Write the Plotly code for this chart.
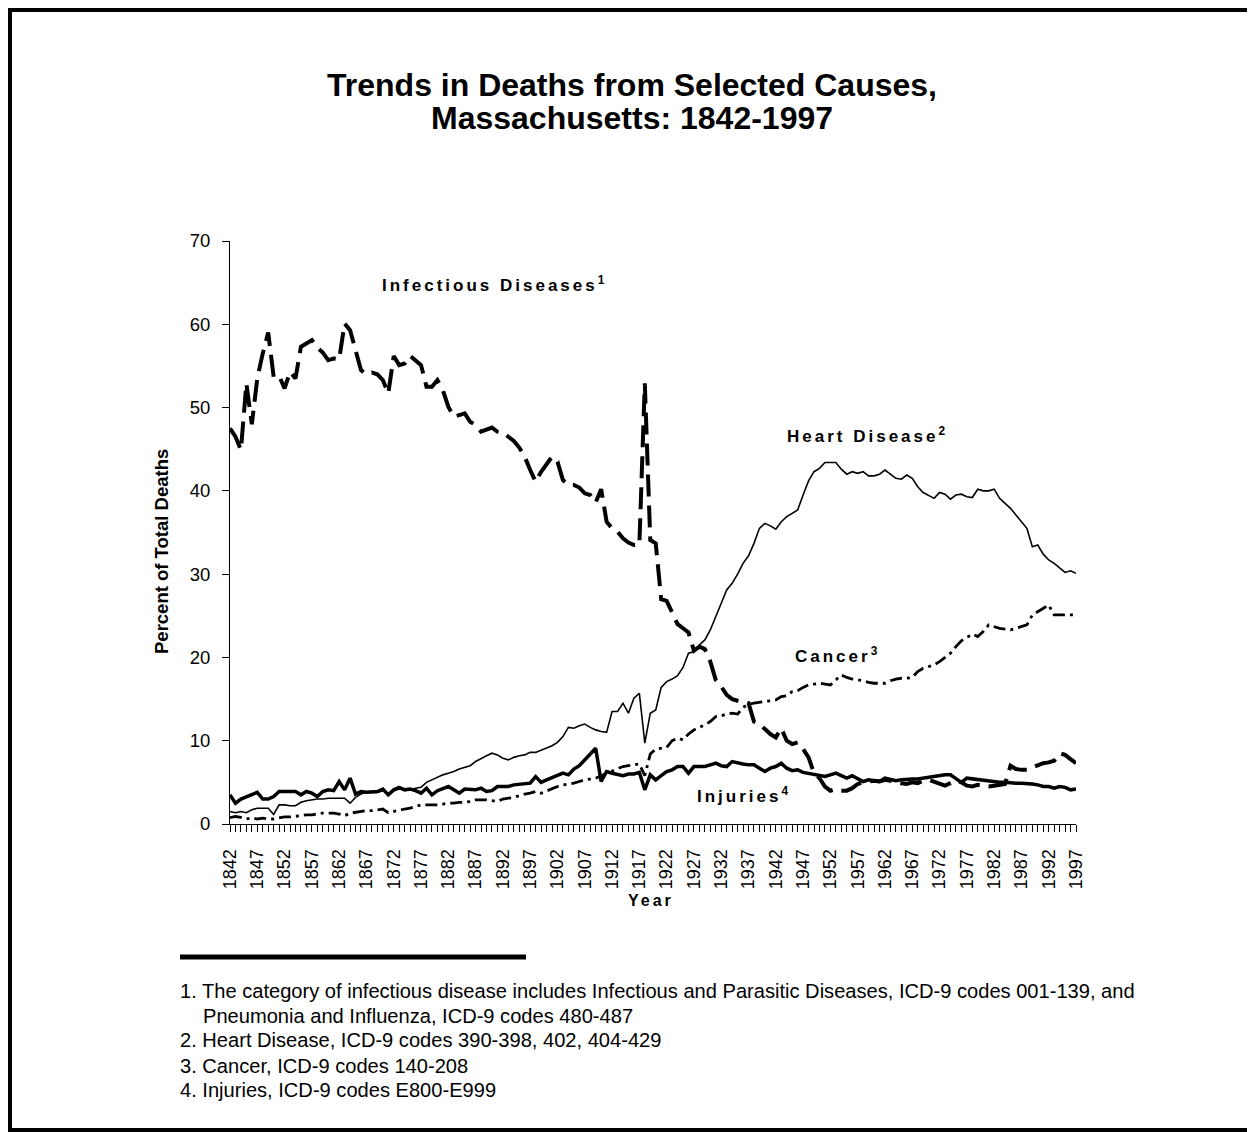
import plotly.graph_objects as go

# Percent of total deaths by cause, Massachusetts 1842-1997
years = list(range(1842, 1998))

infectious = [
    47.5, 46.5, 44.9, 52.9, 48.0, 53.5, 56.5, 59.0, 53.7, 53.8,
    52.3, 54.3, 53.5, 57.3, 57.7, 58.1, 57.2, 56.6, 55.7, 55.9,
    55.8, 60.1, 59.3, 57.0, 54.5, 54.0, 54.2, 54.0, 53.3, 51.7,
    56.2, 55.1, 55.3, 56.2, 55.7, 55.1, 52.5, 52.5, 53.3, 52.1,
    50.1, 48.9, 49.1, 49.3, 48.3, 47.9, 47.1, 47.3, 47.6, 47.1,
    47.0, 46.5, 46.0, 45.2, 44.1, 42.5, 41.1, 42.3, 43.3, 44.1,
    43.5, 41.3, 40.7, 40.7, 40.4, 39.7, 39.5, 38.6, 40.2, 36.3,
    35.5, 35.1, 34.3, 33.8, 33.5, 33.5, 52.9, 34.1, 33.7, 27.0,
    26.8, 25.5, 24.0, 23.5, 23.0, 20.8, 21.3, 21.0, 19.5, 17.3,
    16.5, 15.5, 15.0, 14.8, 14.7, 14.5, 12.3, 12.0, 11.4, 10.8,
    10.4, 11.5, 10.0, 9.6, 9.8, 9.0, 8.0, 6.1, 5.5, 4.5,
    4.0, 4.2, 4.0, 4.0, 4.3, 4.8, 5.0, 5.1, 5.2, 5.1,
    5.3, 5.2, 5.0, 4.9, 4.8, 5.0, 4.9, 5.2, 5.3, 5.1,
    4.8, 4.6, 4.9, 5.2, 5.0, 4.6, 4.5, 4.7, 4.6, 4.5,
    4.6, 4.7, 4.8, 7.0, 6.6, 6.5, 6.5, 6.8, 7.1, 7.3,
    7.4, 7.6, 8.5, 8.3, 7.8, 7.3,
]

heart = [
    1.5, 1.35, 1.5, 1.35, 1.7, 1.9, 1.9, 1.9, 1.15, 2.3,
    2.3, 2.2, 2.2, 2.6, 2.8, 2.9, 3.0, 3.0, 3.1, 3.1,
    3.1, 3.1, 2.5, 3.2, 3.6, 3.8, 3.8, 3.8, 4.0, 3.7,
    4.0, 4.2, 4.1, 4.1, 4.3, 4.4, 5.0, 5.3, 5.6, 5.9,
    6.1, 6.3, 6.6, 6.8, 7.0, 7.5, 7.9, 8.2, 8.5, 8.3,
    7.9, 7.7, 8.0, 8.2, 8.3, 8.6, 8.6, 8.9, 9.1, 9.4,
    9.8, 10.5, 11.6, 11.5, 11.8, 12.0, 11.6, 11.3, 11.1, 11.0,
    13.5, 13.5, 14.5, 13.3, 15.1, 15.7, 9.7, 13.3, 13.7, 16.4,
    17.1, 17.4, 17.8, 18.8, 20.5, 20.7, 21.5, 22.1, 23.3, 25.0,
    26.5, 28.1, 28.9, 30.0, 31.3, 32.2, 33.7, 35.5, 36.1, 35.8,
    35.4, 36.3, 36.9, 37.3, 37.7, 39.5, 41.2, 42.3, 42.7, 43.4,
    43.4, 43.4, 42.6, 42.0, 42.3, 42.1, 42.3, 41.8, 41.8, 42.0,
    42.5, 42.0, 41.5, 41.4, 41.9, 41.5, 40.5, 39.8, 39.4, 39.1,
    39.8, 39.6, 39.0, 39.5, 39.6, 39.3, 39.2, 40.2, 40.0, 40.0,
    40.2, 39.1, 38.5, 37.9, 37.1, 36.3, 35.5, 33.3, 33.5, 32.4,
    31.7, 31.3, 30.8, 30.2, 30.4, 30.1,
]

cancer = [
    0.75, 0.9, 0.8, 0.6, 0.75, 0.6, 0.7, 0.6, 0.6, 0.75,
    0.85, 0.85, 0.9, 1.0, 1.1, 1.1, 1.2, 1.3, 1.3, 1.3,
    1.2, 1.0, 1.3, 1.4, 1.5, 1.6, 1.6, 1.7, 1.8, 1.35,
    1.5, 1.7, 1.8, 1.9, 2.1, 2.3, 2.3, 2.3, 2.3, 2.4,
    2.5, 2.5, 2.6, 2.6, 2.7, 2.9, 2.9, 2.9, 2.8, 2.7,
    3.0, 3.1, 3.2, 3.4, 3.6, 3.7, 3.9, 3.7, 4.0, 4.2,
    4.5, 4.7, 4.8, 4.9, 5.1, 5.3, 5.4, 5.5, 5.8, 6.1,
    6.4, 6.7, 6.9, 7.0, 7.1, 7.2, 5.8, 8.4, 9.0, 9.1,
    9.2, 10.0, 10.3, 10.1, 10.8, 11.3, 11.6, 11.9, 12.3, 12.9,
    13.0, 13.2, 13.3, 13.2, 14.0, 14.4, 14.5, 14.6, 14.7, 14.8,
    14.9, 15.3, 15.4, 15.9, 16.0, 16.4, 16.7, 16.8, 16.9, 16.8,
    16.7, 17.3, 17.9, 17.6, 17.4, 17.3, 17.2, 17.0, 16.9, 16.9,
    16.9, 17.2, 17.4, 17.5, 17.5, 17.6, 18.3, 18.7, 18.9, 19.1,
    19.5, 20.0, 20.5, 21.3, 22.0, 22.4, 22.8, 22.5, 23.1, 23.9,
    23.7, 23.5, 23.4, 23.3, 23.5, 23.7, 23.9, 25.1, 25.5, 25.9,
    26.3, 25.1, 25.1, 25.1, 25.1, 25.1,
]

injuries = [
    3.5, 2.5, 3.0, 3.3, 3.6, 3.8, 3.0, 3.0, 3.3, 3.9,
    3.9, 3.9, 3.9, 3.5, 3.9, 3.7, 3.3, 3.9, 4.1, 4.0,
    5.1, 4.1, 5.5, 3.6, 3.9, 3.8, 3.8, 3.9, 4.2, 3.5,
    4.1, 4.4, 4.1, 4.2, 4.0, 3.7, 4.3, 3.5, 4.0, 4.3,
    4.5, 4.1, 3.7, 4.2, 4.1, 4.1, 4.3, 3.9, 4.0, 4.5,
    4.5, 4.5, 4.7, 4.8, 4.9, 4.9, 5.7, 5.0, 5.3, 5.6,
    5.9, 6.1, 5.9, 6.6, 7.0, 7.7, 8.3, 9.1, 5.1, 6.3,
    6.1, 5.9, 5.8, 6.0, 6.0, 6.2, 4.1, 5.9, 5.3, 5.8,
    6.3, 6.5, 6.9, 6.9, 6.1, 6.9, 6.9, 6.9, 7.1, 7.3,
    7.0, 6.9, 7.5, 7.3, 7.2, 7.1, 7.1, 6.7, 6.3, 6.7,
    6.9, 7.3, 6.7, 6.4, 6.5, 6.2, 6.1, 6.0, 5.9, 5.7,
    5.9, 6.1, 5.8, 5.5, 5.8, 5.5, 5.1, 5.3, 5.2, 5.1,
    5.5, 5.3, 5.2, 5.3, 5.4, 5.4, 5.4, 5.5, 5.7, 5.8,
    5.9, 5.9, 5.9, 5.5, 5.0, 5.5, 5.4, 5.3, 5.3, 5.2,
    5.1, 5.0, 5.0, 4.9, 4.9, 4.9, 4.9, 4.8, 4.7, 4.5,
    4.5, 4.3, 4.5, 4.4, 4.1, 4.2,
]

footnotes = [
    "1. The category of infectious disease includes Infectious and Parasitic Diseases, ICD-9 codes 001-139, and",
    "Pneumonia and Influenza, ICD-9 codes 480-487",
    "2. Heart Disease, ICD-9 codes 390-398, 402, 404-429",
    "3. Cancer, ICD-9 codes 140-208",
    "4. Injuries, ICD-9 codes E800-E999",
]

FONT = "Liberation Sans, Arial, sans-serif"
OFF = 8  # the page body has an 8px margin; positions below are page pixels
W, H = 1255 - OFF, 1132 - OFF
PL, PR, PT, PB = 230, 1076, 241, 824  # plot area in page pixels


def px(x):
    return (x - PL) / (PR - PL)


def py(y):
    return (PB - y) / (PB - PT)


def spaced(txt, sp):
    return f'<span style="letter-spacing:{sp}px">{txt}</span>'


fig = go.Figure()

fig.add_trace(go.Scatter(x=years, y=infectious, mode="lines", name="Infectious Diseases",
                         line=dict(color="black", width=4, dash="22px,9px")))
fig.add_trace(go.Scatter(x=years, y=heart, mode="lines", name="Heart Disease",
                         line=dict(color="black", width=1.6)))
fig.add_trace(go.Scatter(x=years, y=cancer, mode="lines", name="Cancer",
                         line=dict(color="black", width=2.8, dash="12px,5px,3px,5px")))
fig.add_trace(go.Scatter(x=years, y=injuries, mode="lines", name="Injuries",
                         line=dict(color="black", width=3.5)))

annotations = []

# title, two lines
for txt, yc in [("Trends in Deaths from Selected Causes,", 85),
                ("Massachusetts: 1842-1997", 118)]:
    annotations.append(dict(text=f"<b>{txt}</b>", x=px(632), y=py(yc), xref="paper", yref="paper",
                            xanchor="center", yanchor="middle", showarrow=False,
                            font=dict(family=FONT, size=32, color="black")))

# series labels
for txt, sup, xc, yc in [("Infectious Diseases", "1", 493, 284),
                         ("Heart Disease", "2", 866, 435),
                         ("Cancer", "3", 836, 655),
                         ("Injuries", "4", 742, 795)]:
    annotations.append(dict(text=f"<b>{spaced(txt, 3)}<sup>{sup}</sup></b>", x=px(xc), y=py(yc),
                            xref="paper", yref="paper",
                            xanchor="center", yanchor="middle", showarrow=False,
                            font=dict(family=FONT, size=17, color="black")))

# axis titles
annotations.append(dict(text="<b>Percent of Total Deaths</b>", x=px(161), y=py(552),
                        xref="paper", yref="paper", textangle=-90, showarrow=False,
                        xanchor="center", yanchor="middle",
                        font=dict(family=FONT, size=18.5, color="black")))
annotations.append(dict(text=f"<b>{spaced('Year', 3)}</b>", x=px(651), y=py(900),
                        xref="paper", yref="paper", showarrow=False,
                        xanchor="center", yanchor="middle",
                        font=dict(family=FONT, size=16, color="black")))

# footnotes
for txt, xl, yc in zip(footnotes, [178, 201, 178, 178, 178], [991, 1016, 1040, 1066, 1090]):
    annotations.append(dict(text=txt, x=px(xl), y=py(yc), xref="paper", yref="paper",
                            xanchor="left", yanchor="middle", showarrow=False,
                            font=dict(family=FONT, size=20.1, color="black")))

shapes = [
    # outer frame, right on the figure edges
    dict(type="rect", xref="paper", yref="paper",
         x0=px(OFF + 2), x1=px(1253), y0=py(1130), y1=py(OFF + 2),
         line=dict(color="black", width=4)),
    # footnote rule
    dict(type="line", xref="paper", yref="paper", x0=px(180), x1=px(526), y0=py(957), y1=py(957),
         line=dict(color="black", width=5)),
]

fig.update_layout(
    width=W, height=H,
    margin=dict(l=PL - OFF, r=W - (PR - OFF), t=PT - OFF, b=H - (PB - OFF)),
    paper_bgcolor="white", plot_bgcolor="white",
    showlegend=False,
    font=dict(family=FONT, color="black"),
    annotations=annotations,
    shapes=shapes,
)

fig.update_xaxes(
    range=[1842, 1997], tickmode="linear", tick0=1842, dtick=5,
    ticks="outside", ticklen=7, tickwidth=1, tickcolor="black",
    minor=dict(tickmode="linear", tick0=1842, dtick=1, ticks="outside", ticklen=7,
               tickwidth=1, tickcolor="black"),
    tickangle=-90, tickfont=dict(family=FONT, size=18, color="black"),
    showline=True, linecolor="black", linewidth=1,
    showgrid=False, zeroline=False, ticklabelstandoff=10,
)
fig.update_yaxes(
    range=[0, 70], tickmode="linear", tick0=0, dtick=10,
    ticks="outside", ticklen=7, tickwidth=1, tickcolor="black",
    tickfont=dict(family=FONT, size=18.5, color="black"),
    showline=True, linecolor="black", linewidth=1,
    showgrid=False, zeroline=False, ticklabelstandoff=8,
)

fig.write_html("out.html")
